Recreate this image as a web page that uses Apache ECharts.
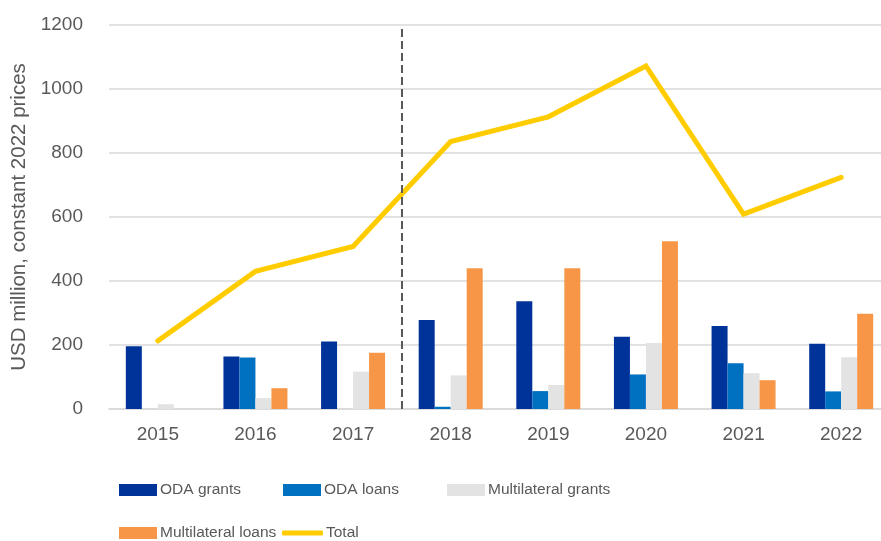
<!DOCTYPE html>
<html>
<head>
<meta charset="utf-8">
<script src="https://cdn.jsdelivr.net/npm/echarts@6/dist/echarts.min.js"></script>
<style>
  html, body { margin: 0; padding: 0; background: #fff; }
  #chart { width: 881px; height: 541px; }
</style>
</head>
<body>
<div id="chart"></div>
<script>
var years = ["2015", "2016", "2017", "2018", "2019", "2020", "2021", "2022"];
var odaGrants = [196, 164, 211, 278, 337, 226, 259, 204];
var odaLoans = [0, 161, 0, 7, 56, 108, 143, 55];
var multiGrants = [15, 34, 117, 105, 75, 206, 112, 162];
var multiLoans = [0, 65, 176, 440, 440, 524, 90, 298];
var total = [213, 430, 508, 836, 913, 1072, 609, 724];
var yTicks = [0, 200, 400, 600, 800, 1000, 1200];
// vertical divider sits between 2017 and 2018
var dividerAt = 3;

var FONT = "'Liberation Sans', Arial, sans-serif";
var GREY = "#595959";

function barSeries(name, data, color) {
	return {
		name: name,
		type: "bar",
		data: data,
		barWidth: 16,
		barGap: "0%",
		itemStyle: { color: color },
		z: 2
	};
}

function legendItem(name, left, top, isLine) {
	var l = {
		data: [name],
		left: left,
		top: top,
		padding: 0,
		icon: isLine ? "roundRect" : "rect",
		itemWidth: isLine ? 41 : 38,
		itemHeight: isLine ? 5 : 12,
		textStyle: { color: GREY, fontSize: 15.5, fontFamily: FONT, padding: [0, 0, 0, -2] },
		selectedMode: false
	};
	return l;
}

var chart = echarts.init(document.getElementById("chart"));
chart.setOption({
	animation: false,
	textStyle: { fontFamily: FONT },
	grid: { left: 109, right: -9, top: 25, bottom: 132, containLabel: false, outerBoundsMode: "none" },
	legend: [
		legendItem("ODA grants", 119, 482),
		legendItem("ODA loans", 283, 482),
		legendItem("Multilateral grants", 447, 482),
		legendItem("Multilateral loans", 119, 525),
		legendItem("Total", 282, 525, true)
	],
	xAxis: [{
		type: "category",
		data: years,
		axisLine: { lineStyle: { color: "#D9D9D9", width: 1.5 } },
		axisTick: { show: false },
		axisLabel: { color: GREY, fontSize: 19, fontFamily: FONT, margin: 16 }
	}, {
		type: "value",
		min: 0,
		max: years.length,
		show: false
	}],
	yAxis: {
		type: "value",
		min: yTicks[0],
		max: yTicks[yTicks.length - 1],
		interval: yTicks[1] - yTicks[0],
		name: "USD million, constant 2022 prices",
		nameLocation: "middle",
		nameGap: 78,
		nameTextStyle: { color: GREY, fontSize: 20.5, fontFamily: FONT },
		axisLine: { show: false },
		axisTick: { show: false },
		axisLabel: {
			color: GREY, fontSize: 19, fontFamily: FONT, margin: 26,
			formatter: function(v) { return String(v); }
		},
		splitLine: { lineStyle: { color: "#D9D9D9", width: 1.5 } }
	},
	series: [
		barSeries("ODA grants", odaGrants, "#003399"),
		barSeries("ODA loans", odaLoans, "#0070C0"),
		barSeries("Multilateral grants", multiGrants, "#E3E3E3"),
		barSeries("Multilateral loans", multiLoans, "#F79646"),
		{
			name: "Total",
			type: "line",
			data: total,
			symbol: "none",
			lineStyle: { color: "#FFCC00", width: 5, cap: "round", join: "miter" },
			itemStyle: { color: "#FFCC00" },
			z: 4
		},
		{
			name: "divider",
			type: "line",
			xAxisIndex: 1,
			data: [],
			markLine: {
				silent: true,
				symbol: "none",
				label: { show: false },
				lineStyle: { color: GREY, type: [8, 4], width: 2 },
				data: [{ xAxis: dividerAt }]
			},
			z: 3
		}
	]
});
</script>
</body>
</html>
